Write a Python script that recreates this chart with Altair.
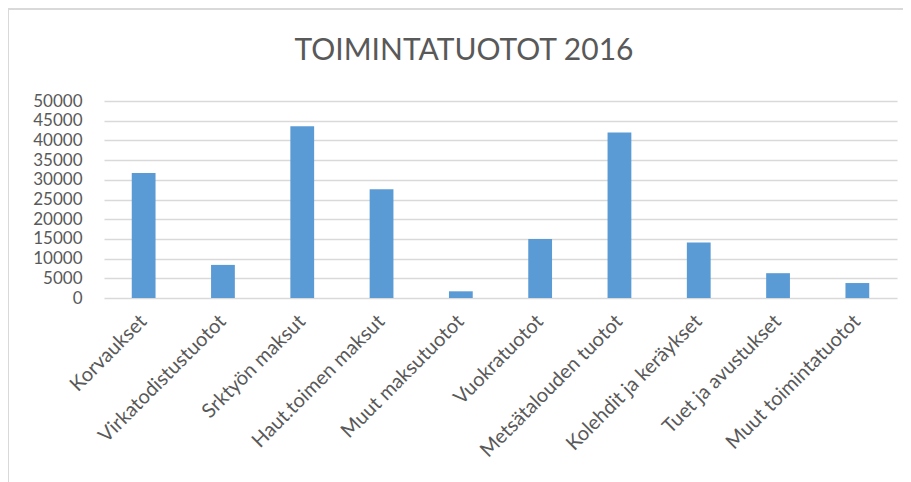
import altair as alt
import pandas as pd

categories = ["Korvaukset", "Virkatodistustuotot", "Srktyön maksut", "Haut.toimen maksut",
              "Muut maksutuotot", "Vuokratuotot", "Metsätalouden tuotot", "Kolehdit ja keräykset",
              "Tuet ja avustukset", "Muut toimintatuotot"]
values = [31700, 8400, 43600, 27600, 1700, 15000, 42000, 14100, 6300, 3800]
y_ticks = [0, 5000, 10000, 15000, 20000, 25000, 30000, 35000, 40000, 45000, 50000]
title_text = "TOIMINTATUOTOT  2016"

df = pd.DataFrame({"cat": categories, "val": values})

FONT = "Lato"
GREY = "#595959"
GRID = "#D9D9D9"

bars = alt.Chart(df).mark_bar(color="#5B9BD5").encode(
    x=alt.X("cat:N", sort=categories, title=None,
            scale=alt.Scale(paddingInner=0.7, paddingOuter=0.35),
            axis=alt.Axis(labelAngle=-45, labelAlign="right", labelBaseline="middle",
                          labelFontSize=20, labelColor=GREY, labelFont=FONT, labelLimit=400,
                          labelOverlap=False,
                          ticks=False, domain=False, labelPadding=20)),
    y=alt.Y("val:Q", title=None, scale=alt.Scale(domain=[0, 50000], nice=False),
            axis=alt.Axis(values=y_ticks, format="d", labelFontSize=17, labelColor=GREY,
                          labelFont=FONT, ticks=False, domain=False, labelPadding=22,
                          labelOverlap=False, gridColor=GRID, gridWidth=1.5)),
)

title = alt.Chart(pd.DataFrame({"t": [title_text]})).mark_text(
    font=FONT, fontSize=30, color=GREY, align="center", baseline="middle"
).encode(text="t:N", x=alt.value(360), y=alt.value(-50))

border_top = alt.Chart(df).mark_rule(color="#D9D9D9", strokeWidth=2).encode(
    x=alt.value(-96), x2=alt.value(810), y=alt.value(-92)
)
border_left = alt.Chart(df).mark_rule(color="#D9D9D9", strokeWidth=2).encode(
    x=alt.value(-96), y=alt.value(-92), y2=alt.value(400)
)

chart = alt.layer(bars, title, border_top, border_left).properties(
    width=793, height=197,
    padding={"left": 96, "top": 93, "right": 6, "bottom": 184},
    autosize=alt.AutoSizeParams(type="none"),
).configure_view(stroke=None)

chart.save("out.html", embed_options={"renderer": "svg", "actions": False})
